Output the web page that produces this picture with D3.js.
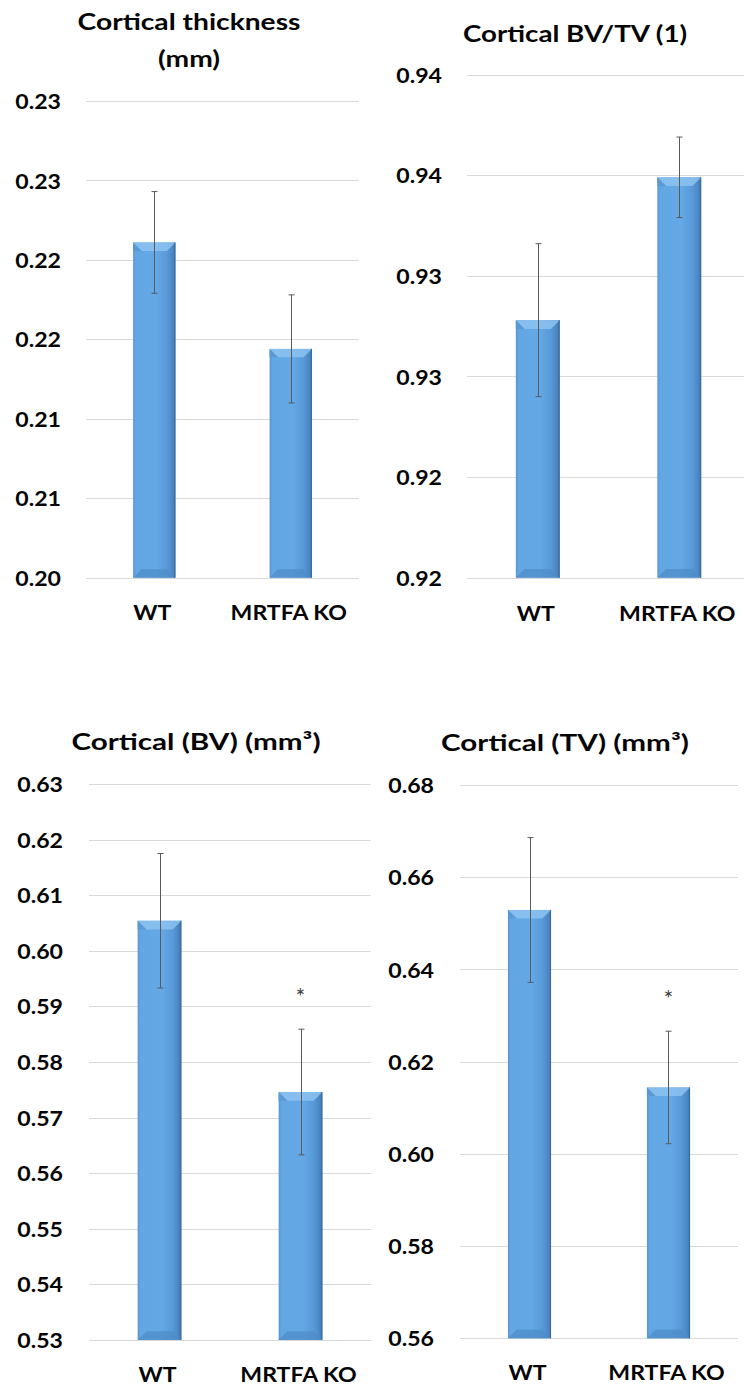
<!DOCTYPE html>
<html>
<head>
<meta charset="utf-8">
<script src="https://cdn.jsdelivr.net/npm/d3@7"></script>
<style>
  html, body { margin: 0; padding: 0; background: #ffffff; }
  svg { display: block; }
  text { font-family: Lato, "Open Sans", sans-serif; font-weight: 700; fill: #050505; }
</style>
</head>
<body>
<svg id="chart" width="744" height="1391"></svg>
<script>
// ---------------- data ----------------
const categories = ["WT", "MRTFA KO"];

const thicknessMean = [0.2211, 0.2144];
const thicknessErr  = [0.0032, 0.0034];
const thicknessTicks = [0.200, 0.205, 0.210, 0.215, 0.220, 0.225, 0.230];
const thicknessTickLabels = ["0.20", "0.21", "0.21", "0.22", "0.22", "0.23", "0.23"];
const thicknessTitle = ["Cortical thickness", "(mm)"];

const bvtvMean = [0.9328, 0.9399];
const bvtvErr  = [0.0038, 0.0020];
const bvtvTicks = [0.920, 0.925, 0.930, 0.935, 0.940, 0.945];
const bvtvTickLabels = ["0.92", "0.92", "0.93", "0.93", "0.94", "0.94"];
const bvtvTitle = ["Cortical BV/TV (1)"];

const bvMean = [0.6054, 0.5746];
const bvErr  = [0.0121, 0.0113];
const bvTicks = [0.53, 0.54, 0.55, 0.56, 0.57, 0.58, 0.59, 0.60, 0.61, 0.62, 0.63];
const bvTickLabels = ["0.53", "0.54", "0.55", "0.56", "0.57", "0.58", "0.59", "0.60", "0.61", "0.62", "0.63"];
const bvTitle = ["Cortical (BV) (mm\u00B3)"];
const bvSig = ["", "*"];

const tvMean = [0.6529, 0.6144];
const tvErr  = [0.0157, 0.0122];
const tvTicks = [0.56, 0.58, 0.60, 0.62, 0.64, 0.66, 0.68];
const tvTickLabels = ["0.56", "0.58", "0.60", "0.62", "0.64", "0.66", "0.68"];
const tvTitle = ["Cortical (TV) (mm\u00B3)"];
const tvSig = ["", "*"];

// ---------------- layout ----------------
const panels = [
  { mean: thicknessMean, err: thicknessErr, ticks: thicknessTicks, tickLabels: thicknessTickLabels,
    title: thicknessTitle, sig: null,
    x0: 86, x1: 359, yTop: 101, yBot: 577.7, labelRight: 61,
    titleX: 189, titleY: [30, 67], titleSx: 1.2, catY: 620 },
  { mean: bvtvMean, err: bvtvErr, ticks: bvtvTicks, tickLabels: bvtvTickLabels,
    title: bvtvTitle, sig: null,
    x0: 467, x1: 750, yTop: 74.7, yBot: 577.7, labelRight: 442,
    titleX: 575, titleY: [42], titleSx: 1.18, catY: 620.5 },
  { mean: bvMean, err: bvErr, ticks: bvTicks, tickLabels: bvTickLabels,
    title: bvTitle, sig: bvSig,
    x0: 89, x1: 371, yTop: 784, yBot: 1340, labelRight: 63,
    titleX: 196, titleY: [750], titleSx: 1.26, catY: 1381.5 },
  { mean: tvMean, err: tvErr, ticks: tvTicks, tickLabels: tvTickLabels,
    title: tvTitle, sig: tvSig,
    x0: 460, x1: 738, yTop: 785, yBot: 1338.3, labelRight: 434,
    titleX: 565, titleY: [751], titleSx: 1.26, catY: 1380 }
];

const svg = d3.select("#chart");
const defs = svg.append("defs");

// bar body gradient (horizontal)
const g1 = defs.append("linearGradient").attr("id", "barBody")
  .attr("x1", "0%").attr("x2", "100%").attr("y1", "0%").attr("y2", "0%");
[["0%", "#5796d2"], ["6%", "#63a6e4"], ["55%", "#64a8e6"], ["80%", "#5899d8"], ["94%", "#4b86c2"], ["100%", "#3e72a8"]]
  .forEach(([o, c]) => g1.append("stop").attr("offset", o).attr("stop-color", c));

const sx = 1.1; // horizontal stretch of text as seen in reference

panels.forEach(p => {
  const g = svg.append("g");
  const x = d3.scaleBand().domain(categories).range([p.x0, p.x1])
    .paddingInner(0.69).paddingOuter(0.345);
  const y = d3.scaleLinear().domain([p.ticks[0], p.ticks[p.ticks.length - 1]])
    .range([p.yBot, p.yTop]);

  // gridlines
  g.selectAll("line.grid").data(p.ticks).enter().append("line")
    .attr("x1", p.x0).attr("x2", p.x1)
    .attr("y1", d => Math.round(y(d)) + 0.5).attr("y2", d => Math.round(y(d)) + 0.5)
    .attr("stroke", "#d9d9d9").attr("stroke-width", 1);

  // tick labels
  g.selectAll("text.tick").data(p.ticks).enter().append("text")
    .attr("transform", d => `translate(${p.labelRight},${y(d)}) scale(${sx},1)`)
    .attr("text-anchor", "end").attr("dominant-baseline", "central")
    .style("font-size", "21px")
    .text((d, i) => p.tickLabels[i]);

  // bars
  const bw = x.bandwidth();
  const bars = g.selectAll("g.bar").data(categories).enter().append("g");
  bars.each(function (c, i) {
    const bx = x(c), by = y(p.mean[i]), bh = y(p.ticks[0]) - by;
    const b = Math.min(9, bw * 0.2);
    const gg = d3.select(this);
    gg.append("rect").attr("x", bx).attr("y", by).attr("width", bw).attr("height", bh)
      .attr("fill", "url(#barBody)");
    // top bevel (light)
    gg.append("polygon")
      .attr("points", [[bx, by], [bx + bw, by], [bx + bw - b, by + b], [bx + b, by + b]].map(q => q.join(",")).join(" "))
      .attr("fill", "#8cc2f0").attr("opacity", 0.85);
    // left top small triangle shade
    gg.append("polygon")
      .attr("points", [[bx, by], [bx + b, by + b], [bx, by + b]].map(q => q.join(",")).join(" "))
      .attr("fill", "#5a99d4");
    // bottom bevel (darker)
    const yb = by + bh;
    gg.append("polygon")
      .attr("points", [[bx, yb], [bx + bw, yb], [bx + bw - b, yb - b], [bx + b, yb - b]].map(q => q.join(",")).join(" "))
      .attr("fill", "#4e8cc8").attr("opacity", 0.75);
    // outline of right edge
    gg.append("line").attr("x1", bx + bw - 0.5).attr("x2", bx + bw - 0.5).attr("y1", by).attr("y2", yb)
      .attr("stroke", "#3a6c9f").attr("stroke-width", 1);
  });

  // error bars
  const cx = c => x(c) + bw / 2;
  categories.forEach((c, i) => {
    const xm = Math.round(cx(c)) + 0.5;
    const yt = y(p.mean[i] + p.err[i]), ybm = y(p.mean[i] - p.err[i]);
    g.append("line").attr("x1", xm).attr("x2", xm).attr("y1", yt).attr("y2", ybm)
      .attr("stroke", "#5a5a5a").attr("stroke-width", 1);
    [yt, ybm].forEach(yy => g.append("line").attr("x1", xm - 3).attr("x2", xm + 3)
      .attr("y1", yy).attr("y2", yy).attr("stroke", "#5a5a5a").attr("stroke-width", 1));
    if (p.sig && p.sig[i]) {
      g.append("text").attr("x", cx(c)).attr("y", yt - 24)
        .attr("text-anchor", "middle")
        .style("font-weight", "400").style("font-size", "23px").style("fill", "#404040")
        .text(p.sig[i]);
    }
  });

  // category labels
  g.selectAll("text.cat").data(categories).enter().append("text")
    .attr("transform", c => `translate(${cx(c) - 2},${p.catY}) scale(${sx},1)`)
    .attr("text-anchor", "middle")
    .style("font-size", "21px")
    .text(c => c);

  // title
  p.title.forEach((t, k) => {
    g.append("text")
      .attr("transform", `translate(${p.titleX},${p.titleY[k]}) scale(${p.titleSx},1)`)
      .attr("text-anchor", "middle")
      .style("font-size", "23.5px")
      .text(t);
  });
});
</script>
</body>
</html>
